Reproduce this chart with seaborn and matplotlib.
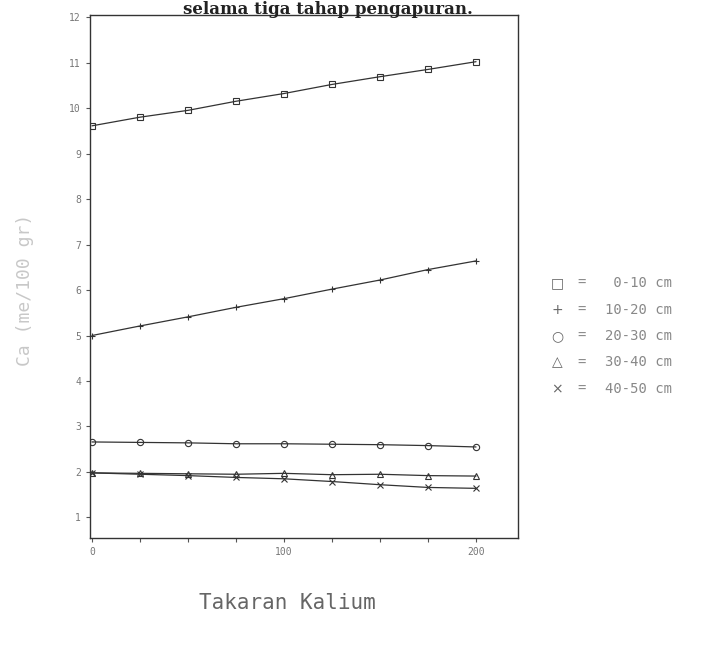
import pandas as pd
import numpy as np
import matplotlib.pyplot as plt
import seaborn as sns

# takaran kalium (x) dan Ca per kedalaman tanah
takaran = [0, 25, 50, 75, 100, 125, 150, 175, 200]
ca_0_10 = [9.61, 9.80, 9.95, 10.15, 10.32, 10.52, 10.69, 10.85, 11.02]
ca_10_20 = [5.00, 5.21, 5.41, 5.62, 5.81, 6.02, 6.22, 6.45, 6.64]
ca_20_30 = [2.66, 2.65, 2.64, 2.62, 2.62, 2.61, 2.60, 2.58, 2.55]
ca_30_40 = [1.98, 1.97, 1.96, 1.95, 1.97, 1.94, 1.95, 1.92, 1.91]
ca_40_50 = [1.98, 1.95, 1.92, 1.88, 1.85, 1.79, 1.72, 1.66, 1.64]

kedalaman = ["0-10 cm", "10-20 cm", "20-30 cm", "30-40 cm", "40-50 cm"]
simbol = ["s", "+", "o", "^", "x"]
simbol_teks = ["\u25a1", "+", "\u25cb", "\u25b3", "\u00d7"]

df = pd.DataFrame({
    "Takaran": takaran * 5,
    "Ca": ca_0_10 + ca_10_20 + ca_20_30 + ca_30_40 + ca_40_50,
    "Kedalaman": np.repeat(kedalaman, len(takaran)),
})

sns.set_style("ticks")
plt.rcParams["font.family"] = ["DejaVu Sans Mono", "DejaVu Sans"]

fig = plt.figure(figsize=(7.09, 6.45), dpi=100)
ax = fig.add_axes([0.127, 0.166, 0.604, 0.811])

for k, m in zip(kedalaman, simbol):
    sub = df[df["Kedalaman"] == k]
    sns.lineplot(data=sub, x="Takaran", y="Ca", marker=m,
                 color="#333333", linewidth=0.9, markersize=4.5,
                 markerfacecolor="none", markeredgecolor="#333333",
                 markeredgewidth=0.8, ax=ax)

ax.set_xlim(-1, 222)
ax.set_ylim(0.55, 12.05)
ax.set_xticks([0, 100, 200])
ax.set_xticks(takaran, minor=True)
ax.set_yticks(range(1, 13))
ax.tick_params(axis="both", which="both", direction="out", length=3,
               width=0.8, colors="#555555", labelsize=7, labelcolor="#777777")
for sp in ax.spines.values():
    sp.set_visible(True)
    sp.set_color("#333333")
    sp.set_linewidth(1.0)
ax.set_xlabel("")
ax.set_ylabel("")

fig.text(287 / 709, 1 - 603 / 645, "Takaran Kalium", fontsize=15,
         color="#666666", ha="center", va="center")
fig.text(25 / 709, 1 - 290 / 645, "Ca (me/100 gr)", fontsize=13,
         color="#c8c8c8", rotation=90, ha="center", va="center")

# keterangan simbol di kanan grafik
for i, (s, lab) in enumerate(zip(simbol_teks, kedalaman)):
    y = 1 - (283 + i * 26.5) / 645
    fig.text(557 / 709, y, s, fontsize=10, color="#666666", va="center",
             ha="center", family=["DejaVu Sans"])
    fig.text(582 / 709, y, "=", fontsize=10, color="#888888", va="center",
             ha="center")
    fig.text(605 / 709, y, lab.rjust(8), fontsize=10, color="#888888",
             va="center")

fig.text(328 / 709, 0.999, "selama tiga tahap pengapuran.", fontsize=12,
         fontweight="bold", family=["DejaVu Serif"], ha="center", va="top",
         color="#222222")

fig.savefig("out.png", dpi=100)
